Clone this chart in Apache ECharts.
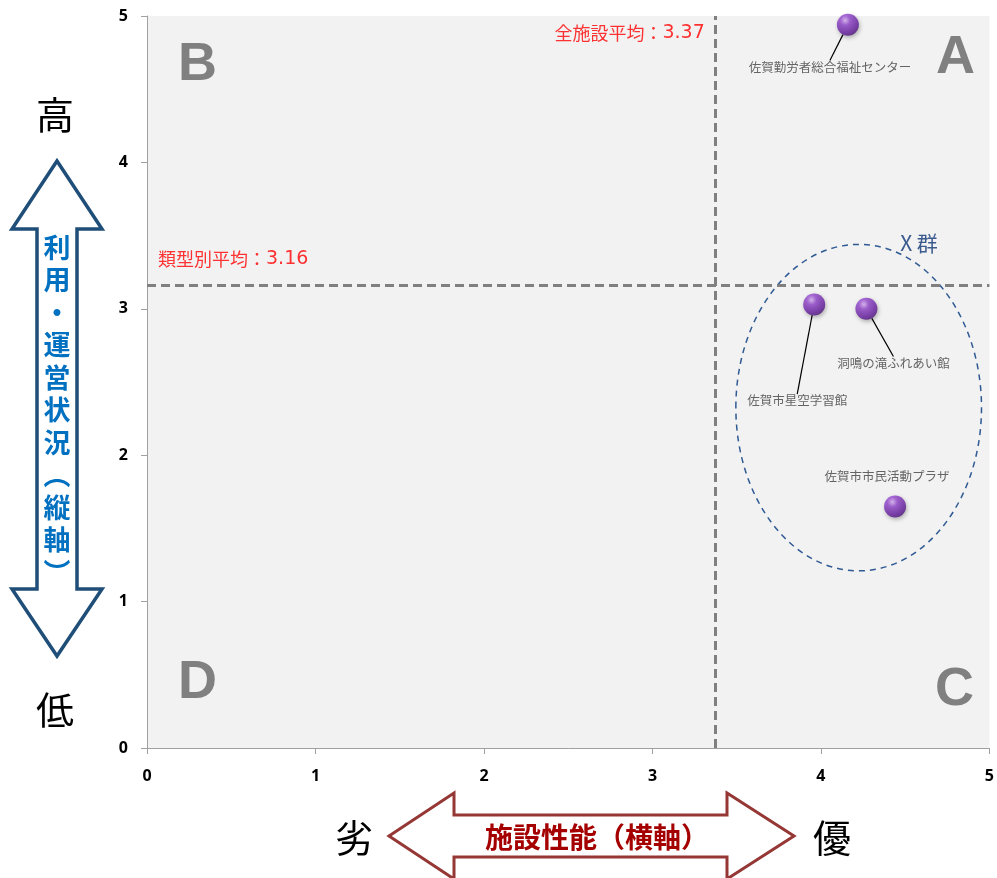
<!DOCTYPE html>
<html>
<head>
<meta charset="utf-8">
<script src="https://cdn.jsdelivr.net/npm/echarts@6/dist/echarts.min.js"></script>
<style>
  html, body { margin: 0; padding: 0; background: #ffffff; }
  #chart { width: 997px; height: 878px; }
</style>
</head>
<body>
<div id="chart"></div>
<script>
// Facilities: name, facility performance (x), usage / operation status (y)
const facilityNames = ['佐賀勤労者総合福祉センター', '佐賀市星空学習館', '洞鳴の滝ふれあい館', '佐賀市市民活動プラザ'];
const performanceScores = [4.16, 3.96, 4.27, 4.44];
const usageScores = [4.94, 3.03, 3.00, 1.65];

// Reference averages
const allFacilityAverage = 3.37;   // vertical line (x)
const categoryAverage = 3.16;      // horizontal line (y)

// Axis ticks
const axisTicks = [0, 1, 2, 3, 4, 5];

// Group X outline: centre x, centre y, half-width, half-height (data units)
const groupX = [4.224, 2.325, 0.729, 1.115];

// Label offsets (px) from each marker, and whether a leader line is drawn
const labelOffsets = [[-18, 42], [-17, 96], [27, 54], [-8, -30]];
const leaderLines = [true, true, true, false];

const jp = '"Noto Sans CJK JP", "Noto Sans", sans-serif';
const tickFont = '"Open Sans", "Liberation Sans", Arial, sans-serif';

const chart = echarts.init(document.getElementById('chart'));

const sphere = new echarts.graphic.RadialGradient(0.38, 0.3, 0.75, [
  { offset: 0, color: '#dcb2f7' },
  { offset: 0.3, color: '#9447cf' },
  { offset: 0.75, color: '#6a22a3' },
  { offset: 1, color: '#4c1679' }
]);

const scatterData = facilityNames.map((n, i) => ({
  name: n,
  value: [performanceScores[i], usageScores[i]],
  labelLine: { show: leaderLines[i] }
}));

// caption style: Japanese part plus wider digits
const captionRich = {
  j: { color: '#ff0000', fontSize: 18, fontFamily: jp },
  n: { color: '#ff0000', fontSize: 19, fontFamily: '"DejaVu Sans", sans-serif' }
};

const option = {
  animation: false,
  backgroundColor: '#ffffff',
  grid: {
    left: 147, right: 6, top: 16, bottom: 130,
    show: true, backgroundColor: '#f2f2f2', borderWidth: 0
  },
  xAxis: {
    type: 'value', min: axisTicks[0], max: axisTicks[axisTicks.length - 1], interval: 1,
    splitLine: { show: false },
    axisLine: { show: true, lineStyle: { color: '#a0a0a0', width: 1 } },
    axisTick: { show: true, length: 6, lineStyle: { color: '#a0a0a0' } },
    axisLabel: { margin: 20, color: '#000', fontWeight: 'bold', fontSize: 16, fontFamily: tickFont }
  },
  yAxis: {
    type: 'value', min: axisTicks[0], max: axisTicks[axisTicks.length - 1], interval: 1,
    splitLine: { show: false },
    axisLine: { show: true, lineStyle: { color: '#a0a0a0', width: 1 } },
    axisTick: { show: true, length: 6, lineStyle: { color: '#a0a0a0' } },
    axisLabel: { margin: 19, color: '#000', fontWeight: 'bold', fontSize: 16, fontFamily: tickFont }
  },
  series: [
    {
      // dashed outline around group X
      type: 'custom',
      silent: true,
      z: 3,
      data: [groupX],
      renderItem: function (params, api) {
        const c = api.coord([api.value(0), api.value(1)]);
        const s = api.size([api.value(2), api.value(3)]);
        return {
          type: 'ellipse',
          shape: { cx: c[0], cy: c[1], rx: s[0], ry: s[1] },
          style: { fill: null, stroke: '#2f5a93', lineWidth: 1.5, lineDash: [6, 5] }
        };
      }
    },
    {
      // average reference lines and their captions
      type: 'scatter',
      silent: true,
      symbolSize: 0,
      z: 4,
      data: [
        {
          value: [allFacilityAverage, axisTicks[axisTicks.length - 1]],
          label: {
            show: true, position: 'left', distance: 10, offset: [0, 17],
            formatter: '{j|全施設平均：}{n|' + allFacilityAverage.toFixed(2) + '}',
            rich: captionRich
          }
        },
        {
          value: [axisTicks[0], categoryAverage],
          label: {
            show: true, position: 'right', distance: 11, offset: [0, -26],
            formatter: '{j|類型別平均：}{n|' + categoryAverage.toFixed(2) + '}',
            rich: captionRich
          }
        }
      ],
      markLine: {
        silent: true,
        symbol: 'none',
        label: { show: false },
        lineStyle: { color: '#808080', width: 3, type: [9, 5] },
        data: [{ xAxis: allFacilityAverage }, { yAxis: categoryAverage }]
      }
    },
    {
      type: 'scatter',
      z: 5,
      symbol: 'circle',
      symbolSize: 22,
      itemStyle: {
        color: sphere,
        shadowBlur: 4, shadowColor: 'rgba(0,0,0,0.35)', shadowOffsetX: 1, shadowOffsetY: 2
      },
      label: {
        show: true, position: 'inside',
        formatter: '{b}',
        color: '#404040', fontSize: 12.5, fontFamily: jp
      },
      labelLine: { show: true, lineStyle: { color: '#000', width: 1.2 } },
      labelLayout: function (p) {
        const o = labelOffsets[p.dataIndex];
        return { dx: o[0], dy: o[1] };
      },
      data: scatterData
    }
  ],
  graphic: [
    // quadrant letters
    { type: 'text', left: 178, top: 38, style: { text: 'B', fill: '#808080', font: 'bold 54px "Liberation Sans", Arial, sans-serif' } },
    { type: 'text', left: 936, top: 31, style: { text: 'A', fill: '#808080', font: 'bold 54px "Liberation Sans", Arial, sans-serif' } },
    { type: 'text', left: 178, top: 656, style: { text: 'D', fill: '#808080', font: 'bold 54px "Liberation Sans", Arial, sans-serif' } },
    { type: 'text', left: 935, top: 663, style: { text: 'C', fill: '#808080', font: 'bold 54px "Liberation Sans", Arial, sans-serif' } },
    // group caption
    { type: 'text', x: 919, y: 243, style: { text: 'X 群', fill: '#3b5b8e', font: '21px ' + jp, align: 'center', verticalAlign: 'middle' } },
    // vertical axis arrow
    {
      type: 'polygon',
      shape: { points: [[57, 161], [102, 229], [77, 229], [77, 589], [102, 589], [57, 656], [12, 589], [37, 589], [37, 229], [12, 229]] },
      style: { fill: '#ffffff', stroke: '#1f4e79', lineWidth: 3.5, lineJoin: 'miter' }
    },
    {
      type: 'text', x: 57, y: 410,
      style: {
        text: '利\n用\n・\n運\n営\n状\n況\n︵\n縦\n軸\n︶',
        fill: '#0070c0', font: 'bold 27px ' + jp, lineHeight: 32.5,
        align: 'center', verticalAlign: 'middle'
      }
    },
    { type: 'text', x: 55, y: 115, style: { text: '高', fill: '#000', font: '38px ' + jp, align: 'center', verticalAlign: 'middle' } },
    { type: 'text', x: 55, y: 710, style: { text: '低', fill: '#000', font: '38px ' + jp, align: 'center', verticalAlign: 'middle' } },
    // horizontal axis arrow
    {
      type: 'polygon',
      shape: { points: [[389, 836], [454, 793], [454, 815], [727, 815], [727, 793], [794, 836], [727, 879], [727, 857], [454, 857], [454, 879]] },
      style: { fill: '#ffffff', stroke: '#953735', lineWidth: 3, lineJoin: 'miter' }
    },
    { type: 'text', x: 597, y: 837, style: { text: '施設性能（横軸）', fill: '#a50000', font: 'bold 28px ' + jp, align: 'center', verticalAlign: 'middle' } },
    { type: 'text', x: 354, y: 838, style: { text: '劣', fill: '#000', font: '38px ' + jp, align: 'center', verticalAlign: 'middle' } },
    { type: 'text', x: 832, y: 838, style: { text: '優', fill: '#000', font: '38px ' + jp, align: 'center', verticalAlign: 'middle' } }
  ]
};

chart.setOption(option);
</script>
</body>
</html>
